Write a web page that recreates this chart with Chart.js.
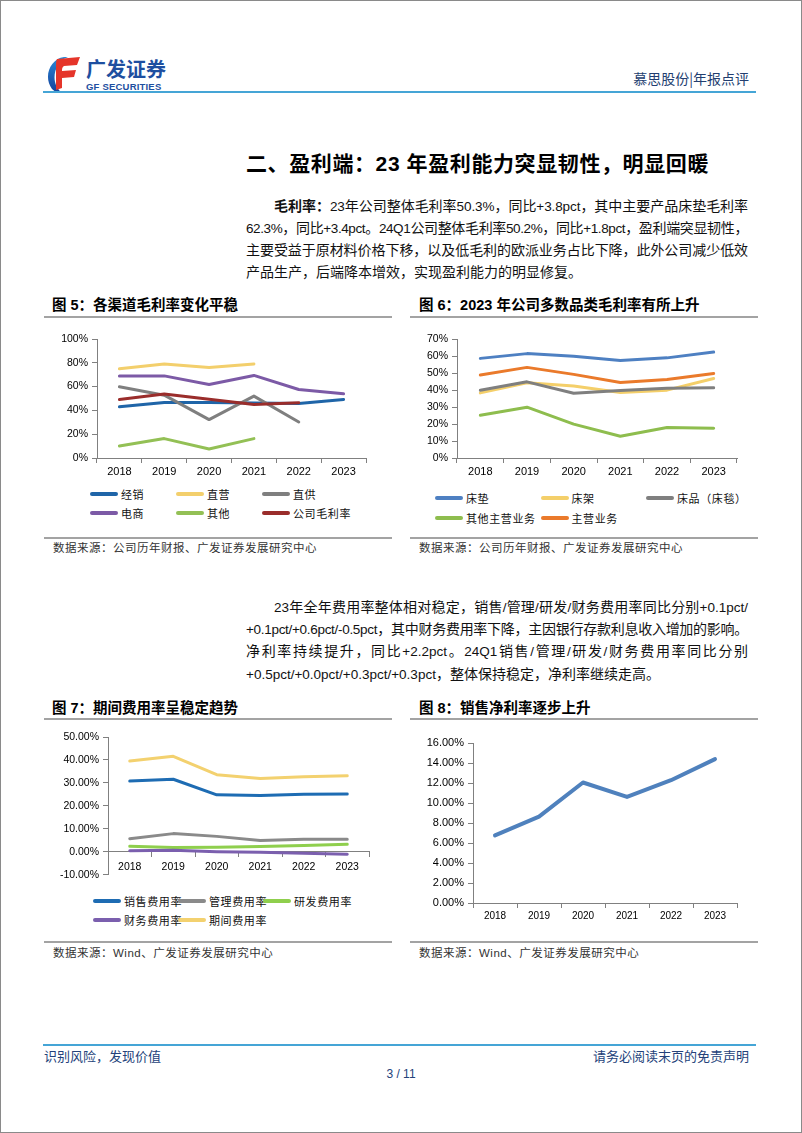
<!DOCTYPE html>
<html><head><meta charset="utf-8">
<script src="https://cdn.jsdelivr.net/npm/chart.js@4.4.0/dist/chart.umd.min.js"></script>
<style>
body{margin:0;background:#fff;}
#page{position:relative;width:802px;height:1133px;overflow:hidden;font-family:"Liberation Sans","Noto Sans CJK SC",sans-serif;color:#000;}
#border{position:absolute;left:0;top:0;width:802px;height:1133px;box-sizing:border-box;border:1px solid #8a8a8a;}
.abs{position:absolute;white-space:nowrap;}
.hl{position:absolute;height:2px;background:#45a5d6;}
.gl{position:absolute;height:2px;background:#a3a3a3;}
.cjk{font-family:"Noto Sans CJK SC",sans-serif;}
.pl{position:absolute;left:246px;width:502px;height:22px;line-height:22px;font-size:14px;font-family:"Noto Sans CJK SC",sans-serif;text-align:justify;text-align-last:justify;color:#111;}
.pl.last{text-align-last:left;}
.pl.first{text-indent:28px;}
.lt{font-family:"Liberation Sans Narrow","Liberation Sans",sans-serif;font-size:13.5px;}
.ft{font-family:"Liberation Sans","Noto Sans CJK SC",sans-serif;font-weight:bold;font-size:14.5px;line-height:20px;}
.src{font-family:"Liberation Sans","Noto Sans CJK SC",sans-serif;font-size:11.5px;line-height:16px;color:#333;letter-spacing:0.5px;}
canvas{position:absolute;}
.lg{position:absolute;height:16px;line-height:16px;font-size:11px;font-family:"Noto Sans CJK SC",sans-serif;white-space:nowrap;display:flex;align-items:center;color:#111;letter-spacing:0.6px;}
.lgm{display:inline-block;width:28px;height:4px;border-radius:2px;margin-right:3px;}
</style></head>
<body><div id="page">
<div id="border"></div>
<!-- header -->
<svg class="abs" style="left:44px;top:55px" width="40" height="40" viewBox="0 0 40 40">
<defs><linearGradient id="gb" x1="0" y1="0" x2="0" y2="1"><stop offset="0" stop-color="#2a8ad8"/><stop offset="1" stop-color="#13409a"/></linearGradient></defs>
<path d="M20 2 C6 4,-1 22,8 34 C11 37,15 38,18 38 C10 32,8 20,14 10 C16 6,19 4,24 2 Z" fill="url(#gb)"/>
<path d="M13 4 L36 2 L33 10 L20 11 C18 12,18 14,18 16 L18 33 L12 35 L12 12 C12 8,12 6,13 4 Z" fill="#e5352a"/>
<path d="M18 16 L32 15 L30 22 L18 23 Z" fill="#e5352a"/>
</svg>
<div class="abs cjk" style="left:86px;top:56px;font-size:20px;line-height:26px;font-weight:bold;color:#1e4fa0;">广发证券</div>
<div class="abs" style="left:86px;top:81px;font-size:9.5px;line-height:12px;font-weight:bold;color:#1e4fa0;letter-spacing:0.2px;">GF SECURITIES</div>
<div class="abs cjk" style="right:53px;top:68px;font-size:14px;line-height:20px;color:#233e70;">慕思股份|年报点评</div>
<div class="hl" style="left:43px;top:91px;width:713px;"></div>

<div class="abs cjk" style="left:246px;top:147px;font-size:21px;line-height:30px;font-weight:bold;letter-spacing:0.6px;">二、盈利端：<span style="font-family:'Liberation Sans'">23 </span>年盈利能力突显韧性，明显回暖</div>

<!-- figure titles -->
<div class="abs ft" style="left:52px;top:295px;">图 5：各渠道毛利率变化平稳</div>
<div class="gl" style="left:44px;top:316px;width:348px;"></div>
<div class="abs ft" style="left:419px;top:295px;">图 6：2023 年公司多数品类毛利率有所上升</div>
<div class="gl" style="left:410px;top:316px;width:348px;"></div>
<div class="gl" style="left:44px;top:537px;width:348px;"></div>
<div class="abs src" style="left:53px;top:540px;">数据来源：公司历年财报、广发证券发展研究中心</div>
<div class="gl" style="left:410px;top:537px;width:348px;"></div>
<div class="abs src" style="left:419px;top:540px;">数据来源：公司历年财报、广发证券发展研究中心</div>

<div class="abs ft" style="left:52px;top:698px;">图 7：期间费用率呈稳定趋势</div>
<div class="gl" style="left:44px;top:718px;width:348px;"></div>
<div class="abs ft" style="left:419px;top:698px;">图 8：销售净利率逐步上升</div>
<div class="gl" style="left:410px;top:718px;width:348px;"></div>
<div class="gl" style="left:44px;top:941px;width:348px;"></div>
<div class="abs src" style="left:53px;top:945px;">数据来源：Wind、广发证券发展研究中心</div>
<div class="gl" style="left:410px;top:941px;width:348px;"></div>
<div class="abs src" style="left:419px;top:945px;">数据来源：Wind、广发证券发展研究中心</div>

<canvas id="c5" width="350" height="160" style="left:44px;top:325px;"></canvas>
<canvas id="c6" width="350" height="160" style="left:410px;top:325px;"></canvas>
<canvas id="c7" width="350" height="160" style="left:44px;top:725px;"></canvas>
<canvas id="c8" width="350" height="195" style="left:410px;top:730px;"></canvas>

<!-- footer -->
<div class="hl" style="left:43px;top:1044px;width:713px;"></div>
<div class="abs cjk" style="left:44px;top:1047px;font-size:13px;line-height:18px;color:#24427a;">识别风险，发现价值</div>
<div class="abs cjk" style="right:53px;top:1047px;font-size:13px;line-height:18px;color:#24427a;">请务必阅读末页的免责声明</div>
<div class="abs" style="left:0;width:802px;text-align:center;top:1066px;font-size:12px;line-height:16px;color:#24427a;">3 / 11</div>
</div>
<script>
// ---------- data ----------
const years = ['2018', '2019', '2020', '2021', '2022', '2023'];

// Fig 5: channel gross margin (%)
const fig5Labels = ['经销', '直营', '直供', '电商', '其他', '公司毛利率'];
const jingxiao   = [43.0, 46.6, 46.6, 46.3, 45.8, 49.2];
const zhiying    = [75.0, 79.0, 76.0, 79.0, null, null];
const zhigong    = [59.8, 52.8, 32.3, 52.0, 30.3, null];
const dianshang  = [69.0, 69.0, 61.8, 69.4, 57.6, 54.0];
const qitaQudao  = [10.1, 16.3, 7.6, 16.3, null, null];
const gongsiMaoli = [49.2, 53.7, 49.4, 45.0, 46.5, null];
const fig5Ticks = [0, 20, 40, 60, 80, 100];

// Fig 6: product gross margin (%)
const fig6Labels = ['床垫', '床架', '床品（床毯）', '其他主营业务', '主营业务'];
const chuangdian = [58.6, 61.4, 59.8, 57.3, 58.9, 62.3];
const chuangjia  = [38.3, 44.2, 42.3, 38.5, 39.9, 46.8];
const chuangpin  = [39.9, 44.8, 38.1, 39.7, 41.1, 41.3];
const qitaZhuying = [25.2, 29.9, 19.9, 12.8, 17.9, 17.5];
const zhuying    = [48.8, 53.3, 49.2, 44.4, 46.2, 49.7];
const fig6Ticks = [0, 10, 20, 30, 40, 50, 60, 70];

// Fig 7: expense ratios (%)
const fig7Labels = ['销售费用率', '管理费用率', '研发费用率', '财务费用率', '期间费用率'];
const xiaoshou = [30.8, 31.6, 24.8, 24.5, 25.1, 25.2];
const guanli   = [5.7, 7.9, 6.7, 4.9, 5.4, 5.4];
const yanfa    = [2.4, 1.9, 2.0, 2.3, 2.7, 3.3];
const caiwu    = [0.4, 0.6, 0.0, -0.2, -0.6, -1.1];
const qijian   = [39.5, 41.6, 33.6, 31.9, 32.7, 33.1];
const fig7Ticks = [-10, 0, 10, 20, 30, 40, 50];

// Fig 8: net margin (%)
const jinglilv = [6.76, 8.64, 12.05, 10.61, 12.28, 14.39];
const fig8Ticks = [0, 2, 4, 6, 8, 10, 12, 14, 16];

// ---------- paragraphs ----------
const page = document.getElementById('page');
function L(s){ return s.replace(/([A-Za-z0-9.%+\-\/]+)/g, '<span class="lt">$1</span>'); }
const paraLines = [
  {y:205, cls:'first', html:'<b>毛利率：</b>' + L('23年公司整体毛利率50.3%，同比+3.8pct，其中主要产品床垫毛利率')},
  {y:227, cls:'', html:L('62.3%，同比+3.4pct。24Q1公司整体毛利率50.2%，同比+1.8pct，盈利端突显韧性，')},
  {y:249, cls:'', html:L('主要受益于原材料价格下移，以及低毛利的欧派业务占比下降，此外公司减少低效')},
  {y:271, cls:'last', html:L('产品生产，后端降本增效，实现盈利能力的明显修复。')},
  {y:606, cls:'first', html:L('23年全年费用率整体相对稳定，销售/管理/研发/财务费用率同比分别+0.1pct/')},
  {y:628, cls:'', html:L('+0.1pct/+0.6pct/-0.5pct，其中财务费用率下降，主因银行存款利息收入增加的影响。')},
  {y:650, cls:'', html:L('净利率持续提升，同比+2.2pct。24Q1销售/管理/研发/财务费用率同比分别')},
  {y:673, cls:'last', html:L('+0.5pct/+0.0pct/+0.3pct/+0.3pct，整体保持稳定，净利率继续走高。')}
];
paraLines.forEach(p => {
  const d = document.createElement('div');
  d.className = 'pl ' + p.cls;
  d.style.top = (p.y - 11) + 'px';
  d.innerHTML = p.html;
  page.appendChild(d);
  let ls = 0;
  while (d.scrollHeight > 30 && ls > -3) { ls -= 0.1; d.style.letterSpacing = ls + 'px'; }
});

// ---------- charts ----------
const AX = '#808080';
function ds(label, data, color, width, i, n) {
  return {label, data, borderColor: color, backgroundColor: color, borderWidth: width,
    pointRadius: 0, pointHoverRadius: 0, tension: 0, spanGaps: false, fill: false,
    borderJoinStyle: 'round', borderCapStyle: 'round', order: n - i};
}
function makeChart(id, datasets, o) {
  return new Chart(document.getElementById(id), {
    type: 'line',
    data: {labels: years, datasets},
    options: {
      responsive: false, animation: false, devicePixelRatio: 1,
      layout: {padding: o.pad},
      plugins: {legend: {display: false}, tooltip: {enabled: false}},
      scales: {
        x: {
          type: 'category', offset: true, position: o.xPos || 'bottom',
          grid: {offset: true, drawOnChartArea: false, drawTicks: true, tickLength: 5, color: AX, lineWidth: 1},
          border: {display: true, color: AX, width: 1},
          ticks: {color: '#000', font: {family: 'Liberation Sans', size: o.xFont}, padding: o.xPad || 2, maxRotation: 0, autoSkip: false},
          afterFit: s => { if (o.xH) s.height = o.xH; }
        },
        y: {
          min: o.ticks[0], max: o.ticks[o.ticks.length - 1],
          afterBuildTicks: s => { s.ticks = o.ticks.map(v => ({value: v})); },
          grid: {drawOnChartArea: false, drawTicks: true, tickLength: 5, color: AX, lineWidth: 1},
          border: {display: true, color: AX, width: 1},
          ticks: {color: '#000', font: {family: 'Liberation Sans', size: o.yFont}, padding: 4, callback: o.fmt},
          afterFit: s => { s.width = o.yW; }
        }
      }
    }
  });
}
function htmlLegend(chart, x0, dx, y0, dy, cols) {
  chart.data.datasets.forEach((d, i) => {
    const c = i % cols, r = Math.floor(i / cols);
    const it = document.createElement('div');
    it.className = 'lg';
    it.style.left = (x0 + c * dx) + 'px';
    it.style.top = (y0 + r * dy - 8) + 'px';
    it.innerHTML = '<span class="lgm" style="background:' + d.borderColor + '"></span><span>' + d.label + '</span>';
    page.appendChild(it);
  });
}

// Fig 5
const c5cols = ['#1f65a8', '#f3cf6c', '#7f7f7f', '#7c5aa6', '#93c055', '#9a2d2b'];
const c5data = [jingxiao, zhiying, zhigong, dianshang, qitaQudao, gongsiMaoli];
const ch5 = makeChart('c5', c5data.map((d, i) => ds(fig5Labels[i], d, c5cols[i], 3, i, 6)),
  {pad: {top: 14, right: 28, bottom: 0, left: 0}, xH: 27, yW: 53, ticks: fig5Ticks, fmt: v => v + '%', xFont: 11, yFont: 10.5});
htmlLegend(ch5, 90, 86, 494, 19, 3);

// Fig 6
const c6cols = ['#4e80c2', '#f4cf6a', '#7f7f7f', '#8ebd4e', '#ea7a2b'];
const c6data = [chuangdian, chuangjia, chuangpin, qitaZhuying, zhuying];
const ch6 = makeChart('c6', c6data.map((d, i) => ds(fig6Labels[i], d, c6cols[i], 3, i, 5)),
  {pad: {top: 14, right: 23, bottom: 0, left: 0}, xH: 27, yW: 47, ticks: fig6Ticks, fmt: v => v + '%', xFont: 11, yFont: 10.5});
htmlLegend(ch6, 435, 105.5, 498, 20, 3);

// Fig 7
const c7cols = ['#1e6cb3', '#8a8a8a', '#8fcf4d', '#7b5fae', '#f3d16f'];
const c7data = [xiaoshou, guanli, yanfa, caiwu, qijian];
const ch7 = makeChart('c7', c7data.map((d, i) => ds(fig7Labels[i], d, c7cols[i], 3, i, 5)),
  {pad: {top: 12, right: 25, bottom: 9, left: 0}, xPos: {y: 0}, xPad: 4, yW: 64, ticks: fig7Ticks, fmt: v => v.toFixed(2) + '%', xFont: 10.5, yFont: 10.5});
htmlLegend(ch7, 93, 85, 901, 18.5, 3);

// Fig 8
const ch8 = makeChart('c8', [ds('销售净利率', jinglilv, '#4f81bd', 4, 0, 1)],
  {pad: {top: 13, right: 23, bottom: 0, left: 0}, xH: 22, yW: 63, ticks: fig8Ticks, fmt: v => v.toFixed(2) + '%', xFont: 10, yFont: 11});
</script>
</body></html>
